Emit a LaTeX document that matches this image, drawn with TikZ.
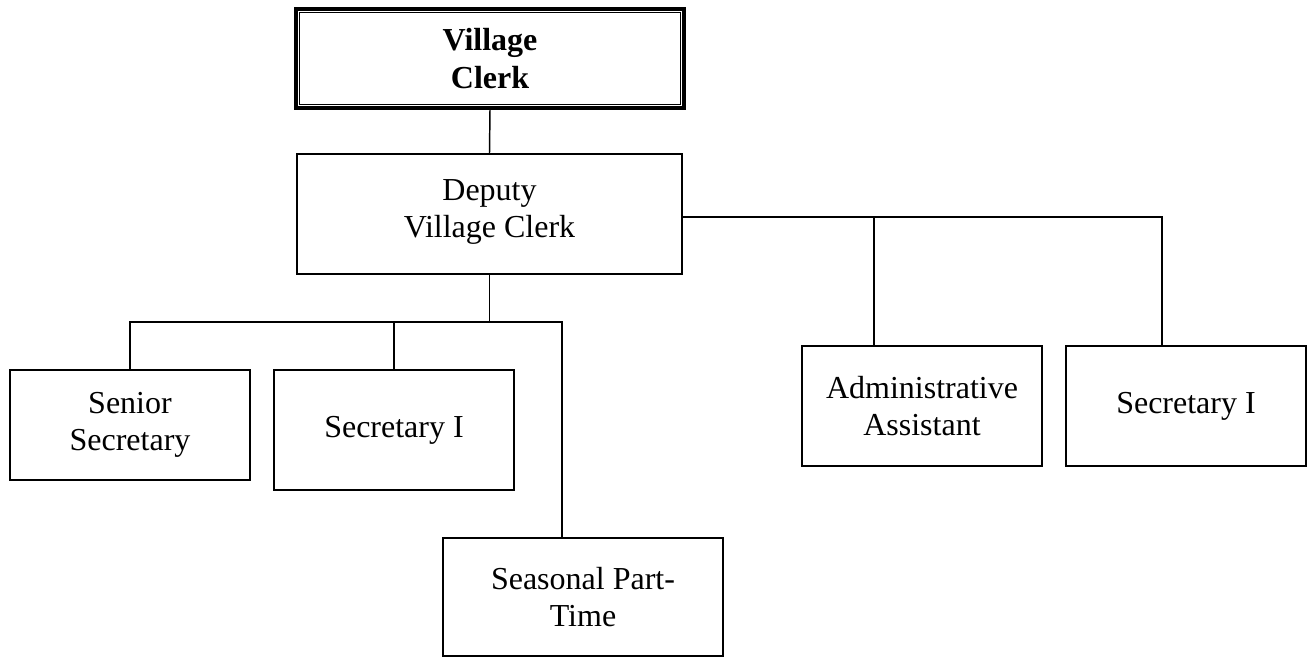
\documentclass[tikz,border=0pt]{standalone}
\usepackage{fontspec}
\setmainfont{Liberation Serif}
\usepackage{tikz}
\usetikzlibrary{positioning,calc}
\tikzset{
  rolebox/.style={draw=black, line width=0.6pt, inner sep=0pt,
    minimum width=90pt, minimum height=45pt, align=center, font=\fontsize{12}{14}\selectfont},
  headbox/.style={draw=black, line width=1.3pt, inner sep=0pt,
    minimum width=145.5pt, minimum height=37.1pt, align=center, font=\fontsize{12}{14}\selectfont\bfseries},
  link/.style={line width=0.55pt}
}

\begin{document}
\begin{tikzpicture}[x=0.375pt, y=-0.375pt]
\useasboundingbox (0,0) rectangle (1313,658);

\node[headbox] (vc) at (490,58.5) {Village\\Clerk};
\draw[line width=0.45pt] ($(vc.north west)+(2pt,-2pt)$) rectangle ($(vc.south east)+(-2pt,2pt)$);

\node[rolebox, minimum width=144.4pt] (dep) at (489.5,214) {Deputy\\Village Clerk\\[-10pt]};

\node[rolebox, minimum height=41.25pt] (senior) at (130,425) {Senior\\Secretary};
\node[rolebox] (sec1) at (394,430) {Secretary I};
\node[rolebox, minimum width=105pt, minimum height=44.25pt] (seas) at (583,597) {Seasonal Part-\\Time};
\node[rolebox] (admin) at (922,406) {Administrative\\Assistant};
\node[rolebox] (sec2) at (1186,406) {Secretary I};

% junctions on the two buses
\coordinate (jS) at (562,322);
\coordinate (jA) at (874,217);
\coordinate (jB) at (1162,217);

\draw[link] (vc.south) -- (dep.north);

\draw[link] (dep.south) -- (dep.south |- jS);
\draw[link] (senior.north) |- (jS) -- (jS |- seas.north);
\draw[link] (sec1.north) -- (sec1.north |- jS);

\draw[link] (dep.east |- jA) -- (jB) -- (jB |- sec2.north);
\draw[link] (jA) -- (jA |- admin.north);
\end{tikzpicture}
\end{document}
